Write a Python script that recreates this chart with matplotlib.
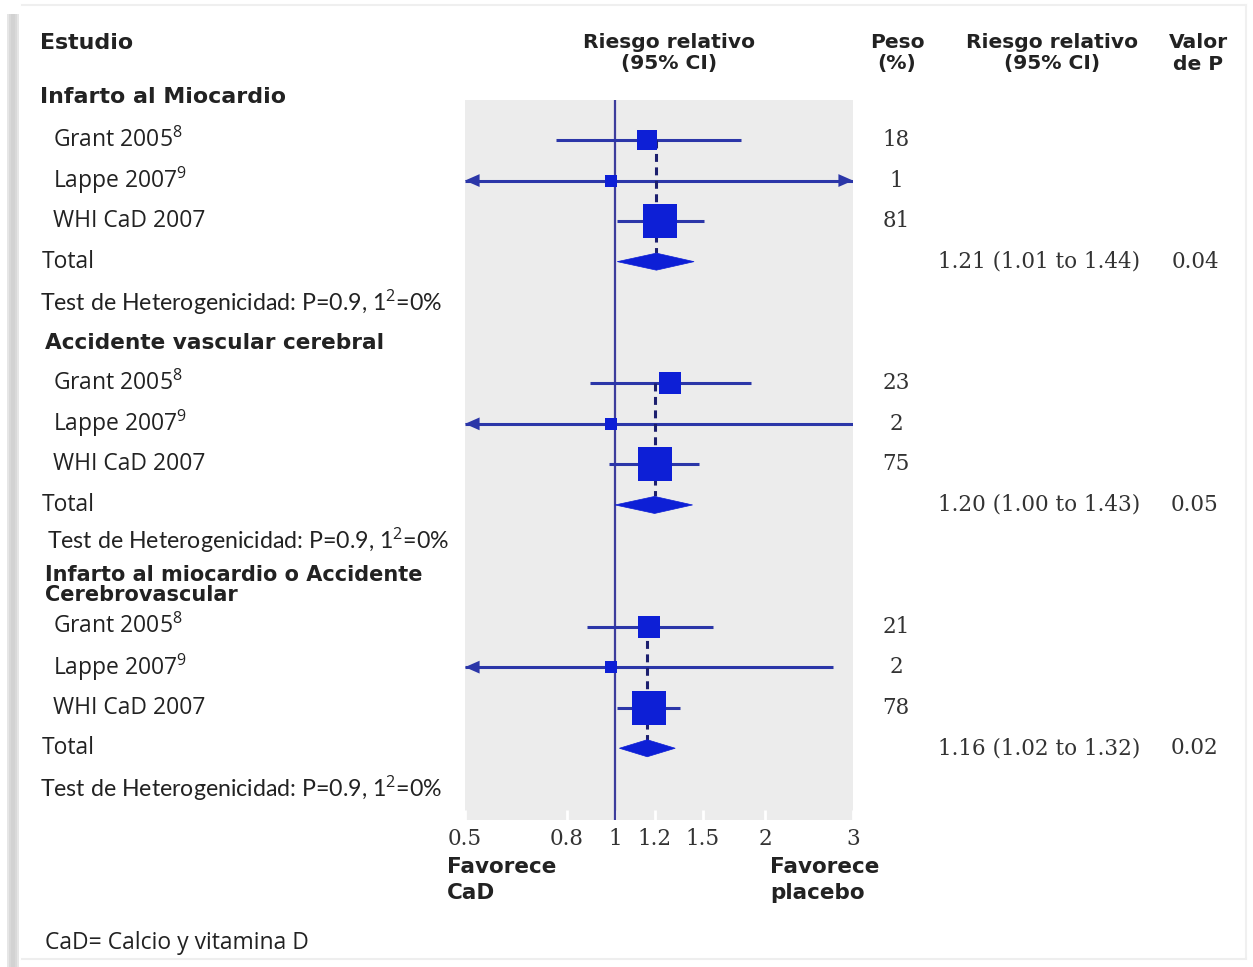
import numpy as np
import matplotlib
matplotlib.use("Agg")
import matplotlib.pyplot as plt
from matplotlib import transforms
from matplotlib.patches import Polygon, Rectangle
from matplotlib.ticker import NullLocator

plt.rcParams["mathtext.fontset"] = "custom"
plt.rcParams["mathtext.rm"] = "Open Sans"
plt.rcParams["mathtext.it"] = "Open Sans:italic"
plt.rcParams["mathtext.bf"] = "Open Sans:bold"

# ---- data -------------------------------------------------------------
outcomes = [["Infarto al Miocardio"],
            ["Accidente vascular cerebral"],
            ["Infarto al miocardio o Accidente", "Cerebrovascular"]]
studies = ["Grant 2005", "Lappe 2007", "WHI CaD 2007"]
study_refs = ["8", "9", ""]

mi_rr = [1.16, 0.98, 1.23]
mi_lo = [0.76, 0.30, 1.01]
mi_hi = [1.79, 4.50, 1.51]
mi_weight = [18, 1, 81]

stroke_rr = [1.29, 0.98, 1.20]
stroke_lo = [0.89, 0.30, 0.97]
stroke_hi = [1.87, 3.00, 1.47]
stroke_weight = [23, 2, 75]

comb_rr = [1.17, 0.98, 1.17]
comb_lo = [0.88, 0.30, 1.01]
comb_hi = [1.57, 2.73, 1.35]
comb_weight = [21, 2, 78]

total_rr = [1.21, 1.20, 1.16]
total_lo = [1.01, 1.00, 1.02]
total_hi = [1.44, 1.43, 1.32]
total_p = ["0.04", "0.05", "0.02"]
heterogeneity = "Test de Heterogenicidad: P=0.9, 1$^{\\mathrm{2}}$=0%"

xticks = [0.5, 0.8, 1, 1.2, 1.5, 2, 3]
xtick_labels = ["0.5", "0.8", "1", "1.2", "1.5", "2", "3"]

column_headers = [["Riesgo relativo", "(95% CI)"], ["Peso", "(%)"],
                  ["Riesgo relativo", "(95% CI)"], ["Valor", "de P"]]
favours = [["Favorece", "CaD"], ["Favorece", "placebo"]]

groups = [
    (mi_rr, mi_lo, mi_hi, mi_weight),
    (stroke_rr, stroke_lo, stroke_hi, stroke_weight),
    (comb_rr, comb_lo, comb_hi, comb_weight),
]

# ---- styling ----------------------------------------------------------
W, H = 1253, 967
LINE = "#2b36a8"
BOX = "#0d1fd6"
VLINE = "#3d3d9c"
DASH = "#1c1f6e"
TXT = "#222222"
NUM = "#333333"
PANEL = "#ececec"
XMIN, XMAX = 0.5, 3.0

fig = plt.figure(figsize=(W / 100, H / 100), dpi=100)
fig.patch.set_facecolor("white")

# full-figure layer in pixel units for text and the page frame
bg = fig.add_axes([0, 0, 1, 1])
bg.set_xlim(0, W)
bg.set_ylim(H, 0)
bg.axis("off")
bg.patch.set_alpha(0)

# page frame: soft shadow on the left, faint rules elsewhere
for x0, wd, c in [(7, 12, "#e6e6e6"), (9, 8, "#d9d9d9"), (11, 4, "#d2d2d2")]:
    bg.add_patch(Rectangle((x0, 14), wd, H - 14, color=c, lw=0, zorder=0))
bg.plot([22, 1246], [5, 5], color="#efefef", lw=1.5, zorder=0)
bg.plot([1246, 1246], [5, 958], color="#f0f0f0", lw=1.5, zorder=0)
bg.plot([22, 1246], [959, 959], color="#eeeeee", lw=1.5, zorder=0)

# forest panel
left_px, right_px, top_px, bot_px = 465, 853, 100, 820
ax = fig.add_axes([left_px / W, 1 - bot_px / H,
                   (right_px - left_px) / W, (bot_px - top_px) / H])
ax.set_facecolor(PANEL)
for s in ax.spines.values():
    s.set_visible(False)
ax.set_xscale("log")
ax.set_xlim(XMIN, XMAX)

row0_px, row_px = 140.0, 40.55          # pixel centre of first study row, row pitch
def row_of(px):
    return (px - row0_px) / row_px + 1
ax.set_ylim(row_of(bot_px), row_of(top_px))
ax.set_yticks([])
ax.set_xticks(xticks)
ax.set_xticklabels(xtick_labels)
ax.xaxis.set_minor_locator(NullLocator())
ax.tick_params(axis="x", direction="in", length=7, width=2, color="white",
               pad=6, labelsize=15.5, labelcolor=NUM)
for lab in ax.get_xticklabels():
    lab.set_fontfamily("DejaVu Serif")

ax.axvline(1, color=VLINE, lw=1.6, zorder=2)

# rows: x in page pixels, y in forest rows
mix = transforms.blended_transform_factory(bg.transData, ax.transData)

def box_size(w):
    return (9 + 2.8 * np.sqrt(w)) * 0.72   # points

arrow_kw = dict(arrowstyle="-|>,head_length=0.75,head_width=0.33",
                mutation_scale=14, color=LINE, lw=0, shrinkA=0, shrinkB=0)

LABEL_FS = 16.5
NUM_FS = 15.5
diamond_h = 0.21
heading_style = [(40, 15.9, [-0.05]), (45, 15.6, [0.0]), (45, 15.0, [-0.27, 0.23])]
for g, (rr, lo, hi, wt) in enumerate(groups):
    base = g * 6
    # section heading
    hx, hfs, hoff = heading_style[g]
    for line, off in zip(outcomes[g], hoff):
        bg.text(hx, base + off, line, transform=mix, ha="left", va="center",
                fontsize=hfs, fontweight="bold", family="DejaVu Sans", color=TXT)

    for i in range(3):
        k = base + 1 + i
        label = studies[i] + (f"$^{{\\mathrm{{{study_refs[i]}}}}}$" if study_refs[i] else "")
        bg.text(53, k, label, transform=mix, ha="left", va="center",
                fontsize=LABEL_FS, family="Open Sans", color=TXT)
        bg.text(896, k, f"{wt[i]}", transform=mix, ha="center", va="center",
                fontsize=NUM_FS, family="DejaVu Serif", color=NUM)
        x0 = max(lo[i], XMIN)
        x1 = min(hi[i], XMAX)
        ax.plot([x0, x1], [k, k], color=LINE, lw=2.2, solid_capstyle="butt", zorder=3)
        if lo[i] < XMIN:
            ax.annotate("", xy=(XMIN, k), xytext=(XMIN * 1.12, k),
                        arrowprops=arrow_kw, zorder=4)
        if hi[i] > XMAX:
            ax.annotate("", xy=(XMAX, k), xytext=(XMAX / 1.12, k),
                        arrowprops=arrow_kw, zorder=4)
        ax.plot([rr[i]], [k], marker="s", ms=box_size(wt[i]), mfc=BOX,
                mec=BOX, mew=0, zorder=5)

    kt = base + 4
    est, tlo, thi = total_rr[g], total_lo[g], total_hi[g]
    ax.add_patch(Polygon([[tlo, kt], [est, kt - diamond_h], [thi, kt], [est, kt + diamond_h]],
                         closed=True, fc=BOX, ec=BOX, lw=0.5, zorder=5))
    ax.plot([est, est], [base + 1, kt - diamond_h], color=DASH, lw=2.2,
            dashes=(2.6, 1.8), zorder=4)

    bg.text(42, kt, "Total", transform=mix, ha="left", va="center",
            fontsize=LABEL_FS, family="Open Sans", color=TXT)
    bg.text(1039, kt, f"{est:.2f} ({tlo:.2f} to {thi:.2f})", transform=mix,
            ha="center", va="center", fontsize=NUM_FS, family="DejaVu Serif", color=NUM)
    bg.text(1195, kt, total_p[g], transform=mix, ha="center", va="center",
            fontsize=NUM_FS, family="DejaVu Serif", color=NUM)
    bg.text(40 if g != 1 else 47, base + 5 - (0.12 if g == 1 else 0), heterogeneity,
            transform=mix, ha="left", va="center", fontsize=16.7, family="Lato",
            color=TXT)

# column headers, one text per line
bg.text(40, 43, "Estudio", ha="left", va="center", fontsize=15.9,
        fontweight="bold", family="DejaVu Sans", color=TXT)
for cx, lines in zip([669, 897, 1052, 1198], column_headers):
    for cy, line in zip([42, 64], lines):
        bg.text(cx, cy, line, ha="center", va="center", fontsize=14.6,
                fontweight="bold", family="DejaVu Sans", color=TXT)

# direction labels under the axis
for fx, lines in zip([447, 770], favours):
    for fy, line in zip([867, 893], lines):
        bg.text(fx, fy, line, ha="left", va="center", fontsize=15.5,
                fontweight="bold", family="DejaVu Sans", color=TXT)

bg.text(45, 943, "CaD= Calcio y vitamina D", ha="left", va="center",
        fontsize=16.5, family="Open Sans", color=TXT)

fig.savefig("out.png", dpi=100, facecolor="white")
